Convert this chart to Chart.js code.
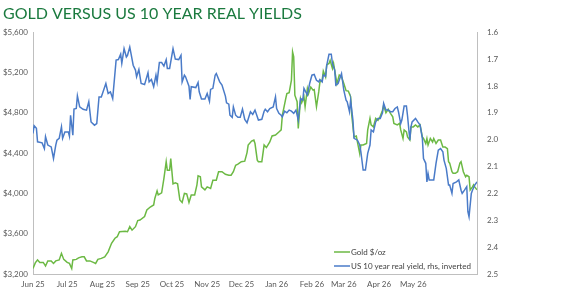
<!DOCTYPE html>
<html>
<head>
<meta charset="utf-8">
<script src="https://cdn.jsdelivr.net/npm/chart.js@4.4.1/dist/chart.umd.min.js"></script>
<style>
  body { margin: 0; background: #fff; }
  canvas { display: block; }
</style>
</head>
<body>
<canvas id="goldChart" width="561" height="301"></canvas>
<script>
// x axis = days since 1 Jun 2025
var monthLabels = ['Jun 25', 'Jul 25', 'Aug 25', 'Sep 25', 'Oct 25', 'Nov 25', 'Dec 25', 'Jan 26', 'Feb 26', 'Mar 26', 'Apr 26', 'May 26'];
var monthDays = [0, 30, 61, 92, 122, 153, 183, 214, 245, 273, 304, 334];

// Gold $/oz (lhs)
var goldDays = [0, 2, 4, 6, 9, 11, 13, 16, 18, 20, 23, 25, 27, 30, 32, 34, 35, 38, 40, 43, 45, 47, 50, 53, 55, 57, 60, 63, 66, 69,
  72, 74, 76, 81, 83, 85, 87, 90, 92, 94, 98, 100, 103, 106, 107, 109, 110, 113, 115, 117, 118, 120, 121, 123, 125, 127, 129, 131, 133, 135,
  137, 139, 142, 144, 145, 147, 148, 151, 153, 156, 158, 161, 163, 166, 169, 172, 174, 176, 178, 180, 183, 186, 188, 189, 192, 194, 195, 197, 198, 201,
  203, 205, 208, 210, 213, 216, 218, 219, 222, 223, 225, 227, 228, 229, 230, 232, 233, 235, 236, 238, 239, 241, 242, 244, 246, 247, 249, 251, 252, 254,
  255, 257, 258, 260, 261, 263, 264, 266, 267, 269, 271, 273, 275, 277, 279, 280, 282, 284, 285, 287, 288, 290, 293, 294, 296, 297, 299, 301, 303, 305,
  307, 308, 310, 312, 314, 316, 317, 320, 322, 323, 325, 326, 328, 329, 331, 332, 334, 336, 338, 340, 342, 343, 345, 346, 347, 349, 351, 352, 354, 356,
  358, 360, 362, 364, 365, 366, 368, 369, 371, 373, 375, 376, 378, 380, 381, 383, 384, 386, 387, 388, 390];
var goldPrice = [3255, 3310, 3340, 3315, 3315, 3280, 3330, 3330, 3305, 3330, 3340, 3405, 3345, 3315, 3305, 3255, 3340, 3345, 3360, 3370, 3370, 3330, 3330, 3315, 3305, 3345, 3355, 3370, 3420, 3505,
  3555, 3570, 3620, 3625, 3620, 3670, 3635, 3670, 3730, 3735, 3770, 3835, 3865, 3885, 3950, 4025, 3985, 4005, 4150, 4315, 4230, 4230, 4345, 4095, 4105, 4095, 3935, 3910, 4000, 3995,
  3910, 3985, 3985, 4085, 4175, 4165, 4065, 4035, 4065, 4050, 4130, 4130, 4215, 4215, 4190, 4180, 4180, 4215, 4280, 4290, 4315, 4320, 4405, 4480, 4520, 4530, 4495, 4330, 4315, 4315,
  4480, 4455, 4510, 4570, 4580, 4610, 4630, 4775, 4940, 4990, 5000, 5125, 5405, 5355, 4975, 4910, 4645, 4940, 4900, 4960, 4860, 5040, 4990, 5055, 5025, 5030, 4860, 5010, 5105, 5125,
  5215, 5155, 5275, 5290, 5320, 5240, 5290, 5155, 5090, 5175, 5155, 5090, 5020, 5015, 4960, 4775, 4560, 4570, 4510, 4395, 4480, 4480, 4495, 4630, 4745, 4680, 4660, 4745, 4725, 4765,
  4825, 4875, 4800, 4835, 4795, 4760, 4695, 4680, 4695, 4630, 4545, 4630, 4610, 4560, 4530, 4660, 4660, 4680, 4660, 4680, 4560, 4545, 4495, 4545, 4480, 4545, 4510, 4545, 4495, 4530,
  4530, 4460, 4460, 4445, 4315, 4300, 4215, 4200, 4200, 4215, 4300, 4315, 4215, 4165, 4180, 4165, 4035, 4065, 4085, 4065, 4035];

// US 10y real yield (rhs, inverted)
var yieldDays = [0, 1, 3, 4, 8, 10, 11, 13, 16, 18, 20, 21, 23, 25, 26, 28, 31, 32, 33, 35, 36, 38, 39, 41, 44, 47, 49, 51, 54, 56,
  58, 60, 64, 66, 68, 70, 73, 75, 77, 78, 80, 82, 83, 85, 88, 90, 91, 93, 95, 98, 101, 102, 104, 106, 108, 109, 111, 113, 115, 117,
  118, 120, 123, 125, 128, 130, 131, 133, 134, 137, 138, 139, 143, 145, 146, 148, 151, 153, 155, 156, 158, 160, 161, 164, 166, 169, 170, 172, 173, 175,
  176, 178, 180, 182, 184, 186, 188, 191, 193, 195, 198, 201, 203, 204, 206, 208, 211, 213, 214, 216, 218, 219, 221, 223, 225, 227, 229, 231, 233, 235,
  237, 238, 241, 243, 245, 247, 249, 251, 252, 254, 255, 257, 258, 260, 262, 263, 265, 266, 268, 270, 271, 273, 275, 276, 278, 279, 281, 282, 285, 287,
  288, 290, 292, 294, 296, 297, 299, 301, 303, 305, 307, 308, 310, 312, 314, 316, 318, 320, 321, 323, 324, 326, 328, 329, 331, 332, 333, 336, 338, 340,
  342, 343, 345, 346, 347, 348, 352, 354, 356, 358, 360, 361, 363, 365, 366, 368, 369, 372, 374, 376, 377, 379, 381, 382, 383, 385, 386, 388, 390];
var realYield = [1.977, 1.948, 1.958, 2.008, 2.012, 2.033, 1.989, 2.020, 2.027, 2.070, 2.020, 2.002, 1.995, 1.952, 1.995, 1.971, 1.971, 1.987, 1.909, 1.983, 1.886, 1.884, 1.837, 1.878, 1.887, 1.890, 1.859, 1.934, 1.946, 1.940,
  1.841, 1.841, 1.791, 1.828, 1.822, 1.847, 1.704, 1.702, 1.682, 1.716, 1.661, 1.692, 1.686, 1.655, 1.723, 1.741, 1.766, 1.739, 1.791, 1.795, 1.751, 1.785, 1.776, 1.803, 1.760, 1.785, 1.713, 1.713, 1.726, 1.702,
  1.735, 1.735, 1.661, 1.700, 1.702, 1.686, 1.785, 1.760, 1.766, 1.801, 1.850, 1.803, 1.806, 1.787, 1.822, 1.849, 1.849, 1.828, 1.857, 1.813, 1.809, 1.760, 1.754, 1.785, 1.797, 1.838, 1.863, 1.868, 1.909, 1.917,
  1.878, 1.909, 1.917, 1.917, 1.886, 1.925, 1.937, 1.896, 1.906, 1.890, 1.927, 1.924, 1.894, 1.887, 1.896, 1.884, 1.878, 1.841, 1.884, 1.902, 1.909, 1.915, 1.894, 1.900, 1.890, 1.894, 1.902, 1.890, 1.927, 1.847,
  1.853, 1.809, 1.834, 1.791, 1.760, 1.757, 1.779, 1.785, 1.776, 1.785, 1.760, 1.764, 1.723, 1.682, 1.682, 1.716, 1.741, 1.797, 1.791, 1.766, 1.754, 1.816, 1.853, 1.859, 1.896, 1.853, 1.927, 1.995, 2.002, 2.020,
  2.045, 2.113, 2.113, 2.051, 2.020, 1.964, 1.971, 1.934, 1.921, 1.921, 1.900, 1.865, 1.890, 1.890, 1.896, 1.896, 1.884, 1.878, 1.896, 1.940, 1.927, 1.875, 1.875, 1.912, 2.002, 1.952, 1.934, 1.921, 1.934, 1.946,
  1.995, 2.070, 2.088, 2.157, 2.126, 2.150, 2.150, 2.088, 2.039, 2.033, 2.045, 2.076, 2.107, 2.169, 2.169, 2.200, 2.163, 2.157, 2.150, 2.188, 2.200, 2.188, 2.175, 2.268, 2.287, 2.200, 2.188, 2.169, 2.157];

var greenLine = '#6cb944';
var blueLine = '#4a7bc8';
var labelGrey = '#595959';
var axisGrey = '#bfbfbf';

function toPoints(xs, ys) {
  return xs.map(function(x, i) { return {x: x, y: ys[i]}; });
}

// legend sits inside the plot, bottom right
var innerLegend = {
  id: 'innerLegend',
  afterDatasetsDraw: function(chart) {
    var ctx = chart.ctx, area = chart.chartArea;
    var items = [chart.data.datasets[1], chart.data.datasets[0]];
    ctx.save();
    ctx.font = '8px Lato';
    ctx.textBaseline = 'middle';
    items.forEach(function(ds, i) {
      var y = area.bottom - 22 + i * 14;
      var x = area.right - 143;
      ctx.strokeStyle = ds.borderColor;
      ctx.lineWidth = 1.5;
      ctx.beginPath();
      ctx.moveTo(x, y);
      ctx.lineTo(x + 16, y);
      ctx.stroke();
      ctx.fillStyle = '#404040';
      ctx.fillText(ds.label, x + 17, y + 0.5);
    });
    ctx.restore();
  }
};

var ctx = document.getElementById('goldChart').getContext('2d');
var myChart = new Chart(ctx, {
  type: 'line',
  data: {
    datasets: [
      {
        label: 'US 10 year real yield, rhs, inverted',
        data: toPoints(yieldDays, realYield),
        yAxisID: 'yRight',
        borderColor: blueLine,
        borderWidth: 1.5,
        pointRadius: 0,
        tension: 0
      },
      {
        label: 'Gold $/oz',
        data: toPoints(goldDays, goldPrice),
        yAxisID: 'yLeft',
        borderColor: greenLine,
        borderWidth: 1.5,
        pointRadius: 0,
        tension: 0
      }
    ]
  },
  options: {
    responsive: false,
    animation: false,
    layout: { padding: { left: 3, right: 0, top: 0, bottom: 0 } },
    plugins: {
      legend: { display: false },
      tooltip: { enabled: false },
      title: {
        display: true,
        text: 'GOLD VERSUS US 10 YEAR REAL YIELDS',
        align: 'start',
        color: '#1b7a3f',
        font: { family: 'Lato', size: 16, weight: 'normal' },
        padding: { top: 4, bottom: 9 }
      }
    },
    scales: {
      x: {
        type: 'linear',
        min: 0,
        max: 390,
        afterBuildTicks: function(scale) {
          scale.ticks = monthDays.map(function(d) { return {value: d}; });
        },
        afterFit: function(scale) { scale.height = 27; },
        ticks: {
          autoSkip: false,
          maxRotation: 0,
          padding: 6,
          color: labelGrey,
          font: { family: 'Lato', size: 8 },
          callback: function(value, index) { return monthLabels[index]; }
        },
        grid: { display: true, drawOnChartArea: false, drawTicks: false },
        border: { display: true, color: axisGrey }
      },
      yLeft: {
        position: 'left',
        min: 3200,
        max: 5600,
        afterFit: function(scale) { scale.width = 30; },
        ticks: {
          stepSize: 400,
          padding: 5,
          color: labelGrey,
          font: { family: 'Lato', size: 8 },
          callback: function(value) { return '$' + value.toLocaleString('en-US'); }
        },
        grid: { display: true, drawOnChartArea: false, drawTicks: false },
        border: { display: true, color: axisGrey }
      },
      yRight: {
        position: 'right',
        reverse: true,
        min: 1.6,
        max: 2.5,
        afterFit: function(scale) { scale.width = 84; },
        ticks: {
          stepSize: 0.1,
          padding: 10,
          color: labelGrey,
          font: { family: 'Lato', size: 8 },
          callback: function(value) { return value.toFixed(1); }
        },
        grid: { display: true, drawOnChartArea: false, drawTicks: false },
        border: { display: true, color: axisGrey }
      }
    }
  },
  plugins: [innerLegend]
});
</script>
</body>
</html>
